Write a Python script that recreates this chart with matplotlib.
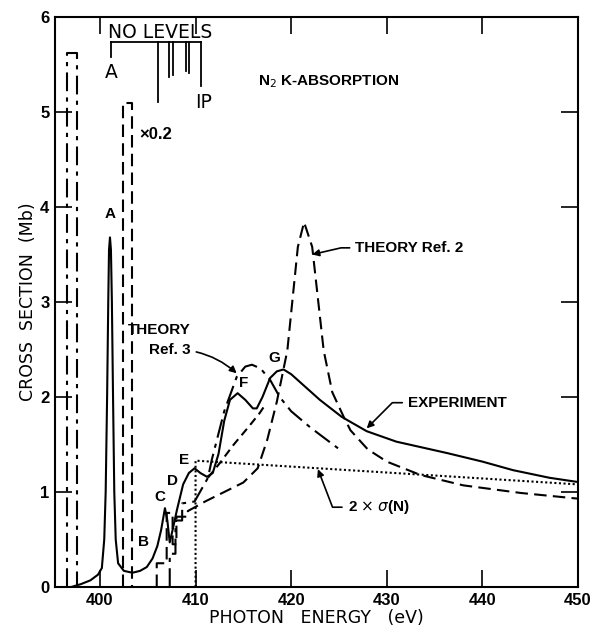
import matplotlib
matplotlib.use("Agg")
import matplotlib.pyplot as plt

# ---------------- data ----------------
# Experiment (solid)
exp_x = [397.0, 398.0, 399.0, 399.8, 400.2, 400.45, 400.6, 400.75, 400.87, 400.95, 401.05,
         401.15, 401.25, 401.37, 401.5, 401.65, 401.9, 402.5, 403.4, 404.2, 404.9, 405.5,
         406.0, 406.4, 406.8, 407.05, 407.3, 407.6, 408.05, 408.7, 409.3, 409.9, 410.5,
         411.2, 411.8, 412.4, 413.0, 413.6, 414.4, 415.2, 416.0, 416.4, 417.0, 417.8,
         418.5, 419.2, 420.0, 421.0, 423.0, 425.3, 427.9, 431.0, 436.3, 440.0, 443.2,
         447.0, 450.0]
exp_y = [0.0, 0.03, 0.07, 0.13, 0.2, 0.5, 1.0, 2.0, 3.0, 3.55, 3.68,
         3.55, 3.0, 2.0, 1.0, 0.5, 0.25, 0.17, 0.15, 0.17, 0.21, 0.3,
         0.43, 0.6, 0.83, 0.7, 0.47, 0.6, 0.81, 1.08, 1.2, 1.25, 1.2,
         1.16, 1.2, 1.4, 1.75, 1.97, 2.04, 1.97, 1.88, 1.88, 2.0, 2.2,
         2.27, 2.29, 2.24, 2.15, 1.97, 1.79, 1.64, 1.53, 1.41, 1.32, 1.23,
         1.15, 1.105]

# Theory Ref. 3 (dash-dot)
r3_box_x = [396.55, 396.55, 397.6, 397.6]
r3_box_y = [0.0, 5.62, 5.62, 0.0]
r3_x = [407.3, 407.3, 407.9, 407.9, 408.6, 408.6, 409.9, 411.3, 411.7, 413.0, 414.3,
        415.2, 415.9, 416.8, 417.8, 418.8, 420.0, 422.0, 424.9]
r3_y = [0.0, 0.35, 0.35, 0.7, 0.7, 0.88, 0.9, 1.15, 1.34, 1.85, 2.21,
        2.32, 2.34, 2.30, 2.18, 2.00, 1.85, 1.68, 1.46]

# secondary dashed branch between E and G
br_x = [411.3, 412.5, 414.0, 415.5, 416.7, 417.3]
br_y = [1.15, 1.3, 1.5, 1.68, 1.83, 1.92]

# Theory Ref. 2 (dashed)
r2_box_x = [402.4, 402.4, 403.35, 403.35]
r2_box_y = [0.0, 5.1, 5.1, 0.0]
r2_x = [405.94, 405.94, 406.98, 406.98, 407.6, 407.6, 408.0, 408.0, 409.2, 409.2,
        409.75, 411.0, 413.0, 415.0, 416.5, 417.5, 418.5, 419.6, 420.7, 421.35, 422.2,
        423.4, 424.3, 425.5, 426.2, 428.0, 430.0, 433.5, 438.0, 444.0, 450.0]
r2_y = [0.0, 0.25, 0.25, 0.78, 0.78, 0.45, 0.45, 0.74, 0.74, 0.8,
        0.83, 0.90, 1.00, 1.10, 1.25, 1.55, 1.95, 2.49, 3.58, 3.84, 3.58,
        2.49, 2.05, 1.79, 1.65, 1.45, 1.32, 1.18, 1.07, 0.99, 0.93]

# 2 x sigma(N) (dotted)
atom_x = [410.0, 410.0, 450.0]
atom_y = [0.0, 1.33, 1.08]

# Rydberg level markers (NO LEVELS bracket)
lev_x = [406.07, 407.22, 407.64, 409.0, 409.3]
lev_bottom = [5.105, 5.37, 5.39, 5.43, 5.41]

xticks = [400, 410, 420, 430, 440, 450]
yticks = [0, 1, 2, 3, 4, 5, 6]

# ---------------- figure ----------------
fig = plt.figure(figsize=(5.93, 6.31), dpi=100)
ax = fig.add_axes([55/593, 44/631, 523/593, 570/631])
ax.set_xlim(395.3, 450)
ax.set_ylim(0, 6)

lw = 1.5
dashdot = (0, (9, 3, 2, 3))
dashed = (0, (6, 3))
ax.plot(exp_x, exp_y, color="black", lw=lw)
ax.plot(r3_box_x, r3_box_y, color="black", lw=lw, linestyle=dashdot)
ax.plot(r3_x, r3_y, color="black", lw=lw, linestyle=dashdot)
ax.plot(br_x, br_y, color="black", lw=lw, linestyle=(0, (4, 2.5)))
ax.plot(r2_box_x, r2_box_y, color="black", lw=lw, linestyle=dashed)
ax.plot(r2_x, r2_y, color="black", lw=lw, linestyle=dashed)
ax.plot(atom_x, atom_y, color="black", lw=1.5, linestyle=(0, (1, 1.2)))

# bracket
ytop = 5.74
ax.plot([401.16, 410.57], [ytop, ytop], color="black", lw=1.3)
ax.plot([401.16, 401.16], [ytop, 5.58], color="black", lw=1.3)
ax.plot([410.57, 410.57], [ytop, 5.27], color="black", lw=1.3)
for lx, lb in zip(lev_x, lev_bottom):
    ax.plot([lx, lx], [ytop, lb], color="black", lw=1.3)

lab = dict(family="DejaVu Sans", fontsize=13.5, color="black")
ax.text(406.3, 5.84, "NO LEVELS", ha="center", va="center", **lab)
ax.text(401.16, 5.42, "A", ha="center", va="center", **lab)
ax.text(410.8, 5.1, "IP", ha="center", va="center", **lab)

bold = dict(family="Liberation Sans", fontsize=11, fontweight="bold", color="black")
ax.text(416.5, 5.32, r"N$_2$ K-ABSORPTION", ha="left", va="center", **bold)
ax.text(404.1, 4.76, "×0.2", ha="left", va="center", family="Liberation Sans",
        fontsize=12, fontweight="bold")

# peak letters
for t, x, y in [("A", 401.05, 3.93), ("B", 404.6, 0.47), ("C", 406.3, 0.95),
                ("D", 407.6, 1.12), ("E", 408.8, 1.34), ("F", 415.0, 2.15),
                ("G", 418.2, 2.41)]:
    ax.text(x, y, t, ha="center", va="center", **bold)

# annotations
arrow = dict(arrowstyle="-|>", color="black", lw=1.2, shrinkA=2, shrinkB=0,
             mutation_scale=10)
ax.annotate("THEORY Ref. 2", xy=(422.2, 3.5), xytext=(426.7, 3.57),
            ha="left", va="center", **bold,
            arrowprops=dict(arrow, connectionstyle="angle,angleA=0,angleB=13,rad=0"))
ax.text(409.5, 2.7, "THEORY", ha="right", va="center", **bold)
ax.annotate("Ref. 3", xy=(414.3, 2.25), xytext=(409.5, 2.5),
            ha="right", va="center", **bold,
            arrowprops=dict(arrow, connectionstyle="arc3,rad=-0.2"))
ax.annotate("EXPERIMENT", xy=(427.9, 1.67), xytext=(432.2, 1.94),
            ha="left", va="center", **bold,
            arrowprops=dict(arrow, connectionstyle="angle,angleA=0,angleB=45,rad=0"))
ax.annotate(r"2 $\times$ $\sigma$(N)", xy=(422.8, 1.24), xytext=(425.9, 0.84),
            ha="left", va="center", **bold,
            arrowprops=dict(arrow, connectionstyle="angle,angleA=0,angleB=111,rad=0"))

# axes styling
ax.set_xticks(xticks)
ax.set_yticks(yticks)
ax.tick_params(direction="in", length=12, width=1.2, top=True, right=True,
               labelsize=12, pad=4)
for lbl in ax.get_xticklabels() + ax.get_yticklabels():
    lbl.set_fontweight("bold")
    lbl.set_family("Liberation Sans")
for s in ax.spines.values():
    s.set_linewidth(1.5)

ax.set_xlabel("PHOTON   ENERGY   (eV)", fontsize=12.5, family="DejaVu Sans", labelpad=1)
ax.set_ylabel("CROSS  SECTION  (Mb)", fontsize=12.5, family="DejaVu Sans", labelpad=2)

fig.savefig("out.png", dpi=100)
